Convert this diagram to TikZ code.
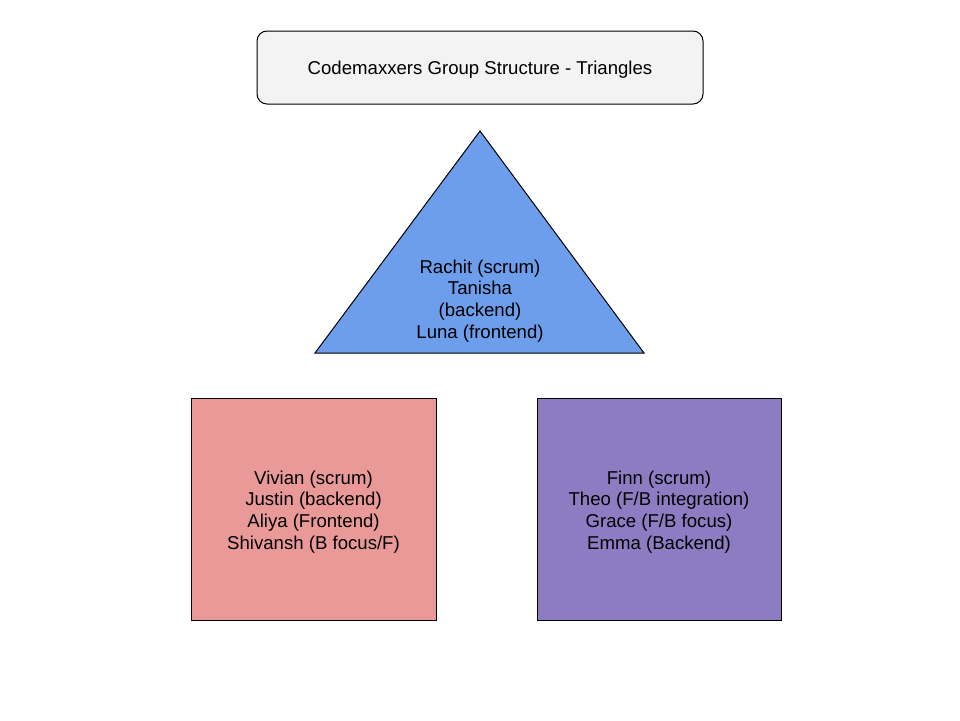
\documentclass[tikz,border=0pt]{standalone}
\usepackage{fontspec}
\setmainfont{Liberation Sans}
\definecolor{titlefill}{HTML}{F3F3F3}
\definecolor{trifill}{HTML}{6D9EEB}
\definecolor{redfill}{HTML}{EA9999}
\definecolor{purplefill}{HTML}{8E7CC3}
\begin{document}
\begin{tikzpicture}[x=1pt,y=-1pt,
  txt/.style={align=center,font=\fontsize{18.6}{21.8}\selectfont,inner sep=0pt},
  shapeline/.style={draw=black,line width=1pt}]
\useasboundingbox[fill=white] (0,0) rectangle (960,720);
% title
\node[shapeline,fill=titlefill,rounded corners=10pt,minimum width=446pt,minimum height=73pt] (title) at (480,67.5) {};
\node[txt] (titletxt) at (480,69.5) {Codemaxxers Group Structure - Triangles};
% triangle
\draw[shapeline,fill=trifill,line join=miter] (480,131) -- (644,353) -- (315,353) -- cycle;
\node[txt] (tri) at (480,301) {Rachit (scrum)\\Tanisha\\(backend)\\Luna (frontend)};
% red square
\node[shapeline,fill=redfill,minimum width=245pt,minimum height=222pt] (red) at (313.5,509) {};
\node[txt] (redtxt) at (313.5,512) {Vivian (scrum)\\Justin (backend)\\Aliya (Frontend)\\Shivansh (B focus/F)};
% purple square
\node[shapeline,fill=purplefill,minimum width=244pt,minimum height=222pt] (purple) at (659,509) {};
\node[txt] (purpletxt) at (659,512) {Finn (scrum)\\Theo (F/B integration)\\Grace (F/B focus)\\Emma (Backend)};
\end{tikzpicture}
\end{document}
